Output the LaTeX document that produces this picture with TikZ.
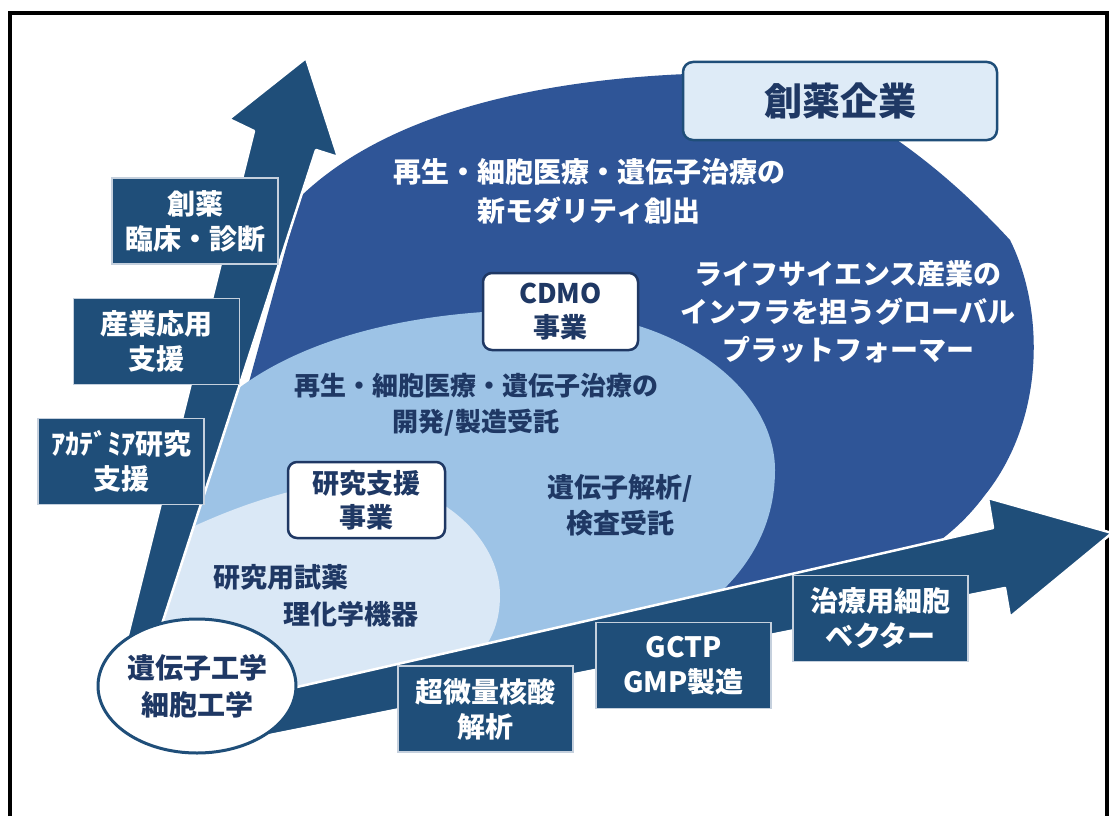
\documentclass[tikz,border=0pt]{standalone}
\usepackage{fontspec}
\setmainfont{Noto Sans CJK JP}
\usetikzlibrary{shapes.geometric}
\definecolor{arrownavy}{HTML}{1F4E79}
\definecolor{boxnavy}{HTML}{1F4E79}
\definecolor{blobdark}{HTML}{2F5597}
\definecolor{blobmid}{HTML}{9DC3E6}
\definecolor{bloblight}{HTML}{DAE8F6}
\definecolor{textnavy}{HTML}{1F3864}
\definecolor{boxedge}{HTML}{C5D0DD}
\definecolor{titlefill}{HTML}{DEEBF7}
\begin{document}
\begin{tikzpicture}[x=1pt,y=-1pt,
  armbox/.style={draw=boxedge, line width=1.2pt, fill=boxnavy, text=white, minimum height=86pt, inner sep=0pt, align=center, font=\fontsize{28}{35}\selectfont\bfseries},
  leftbox/.style={armbox, minimum width=166pt},
  bottombox/.style={armbox, minimum width=175pt},
  bizbox/.style={draw=textnavy, line width=2.5pt, fill=white, rounded corners=9pt, text=textnavy, align=center, inner sep=0pt, font=\fontsize{27}{34}\selectfont\bfseries},
  whitetext/.style={text=white, align=center, font=\fontsize{28}{38.5}\selectfont\bfseries},
  navytext/.style={text=textnavy, align=center, font=\fontsize{26}{36}\selectfont\bfseries},
  bigarrow/.style={fill=arrownavy, draw=white, line width=2.5pt, line join=round},
]
\useasboundingbox (0,0) rectangle (1118,816);
\fill[white] (0,0) rectangle (1118,816);
% frame
\draw[line width=4pt] (9.5,816) -- (9.5,13.5) -- (1107,13.5) -- (1107,816);

% nested areas
\begin{scope}
\clip (351,40) -- (137,700) -- (137,724) -- (1118,499) -- (1118,40) -- cycle;
\fill[blobdark] (200,560) -- (300,197) .. controls (390,110) and (550,76) .. (720,73)
  .. controls (840,75) and (955,180) .. (1010,240)
  .. controls (1045,310) and (1045,420) .. (985,495)
  .. controls (970,515) and (955,530) .. (930,548) -- (200,760) -- cycle;
\fill[blobmid] (150,600) -- (230,395) .. controls (295,342) and (400,312) .. (530,310)
  .. controls (680,310) and (775,390) .. (775,470)
  .. controls (775,530) and (745,575) .. (700,610) -- (150,760) -- cycle;
\fill[bloblight] (150,650) -- (190,528) .. controls (240,505) and (290,488) .. (350,480)
  .. controls (440,478) and (500,540) .. (500,595)
  .. controls (500,625) and (490,645) .. (470,665) -- (150,760) -- cycle;
\end{scope}

% axes arrows
\path[bigarrow] (306,58) -- (338,157) -- (316,150) -- (148,667) -- (120,667) -- (254,131) -- (229,119) -- cycle;
\path[bigarrow] (240,700) -- (993,528) -- (988,498) -- (1112,533) -- (1010,617) -- (1005,588) -- (245,740) -- cycle;

% origin
\node[ellipse, draw=arrownavy, line width=3pt, fill=white, minimum width=166pt, minimum height=134pt, inner sep=0pt,
  text=textnavy, align=center, font=\fontsize{28}{37}\selectfont\bfseries] (gene) at (197,686) {遺伝子工学\\細胞工学};

% vertical axis labels
\node[leftbox] (drug) at (195,221) {創薬\\臨床・診断};
\node[leftbox] (industry) at (156.5,341.5) {産業応用\\支援};
\node[leftbox] (academia) at (121,461.5) {ｱｶﾃﾞﾐｱ研究\\支援};

% horizontal axis labels
\node[bottombox] (nucleic) at (485.5,709) {超微量核酸\\解析};
\node[bottombox] (gctp) at (683.5,665.5) {GCTP\\GMP製造};
\node[bottombox] (vector) at (880.5,618.5) {治療用細胞\\ベクター};

% title box
\node[draw=arrownavy, line width=2.5pt, fill=titlefill, rounded corners=10pt, minimum width=314pt, minimum height=78pt,
  text=textnavy, font=\fontsize{38}{44}\selectfont\bfseries] (pharma) at (840,101) {創薬企業};

% business boxes
\node[bizbox, minimum width=155pt, minimum height=77pt] (cdmo) at (560.5,311.5) {CDMO\\事業};
\node[bizbox, minimum width=157pt, minimum height=76pt] (research) at (366.5,500) {研究支援\\事業};

% texts
\node[whitetext] (modality) at (589,191.5) {再生・細胞医療・遺伝子治療の\\新モダリティ創出};
\node[whitetext, font=\fontsize{28}{38}\selectfont\bfseries] (platform) at (848,312) {ライフサイエンス産業の\\インフラを担うグローバル\\プラットフォーマー};
\node[navytext] (contract) at (476,405) {再生・細胞医療・遺伝子治療の\\開発/製造受託};
\node[navytext, font=\fontsize{27}{36}\selectfont\bfseries] (analysis) at (620,505) {遺伝子解析/\\検査受託};
\node[navytext, font=\fontsize{27}{34}\selectfont\bfseries] (reagent) at (281,577) {研究用試薬};
\node[navytext, font=\fontsize{27}{34}\selectfont\bfseries] (instrument) at (351,614) {理化学機器};
\end{tikzpicture}
\end{document}
